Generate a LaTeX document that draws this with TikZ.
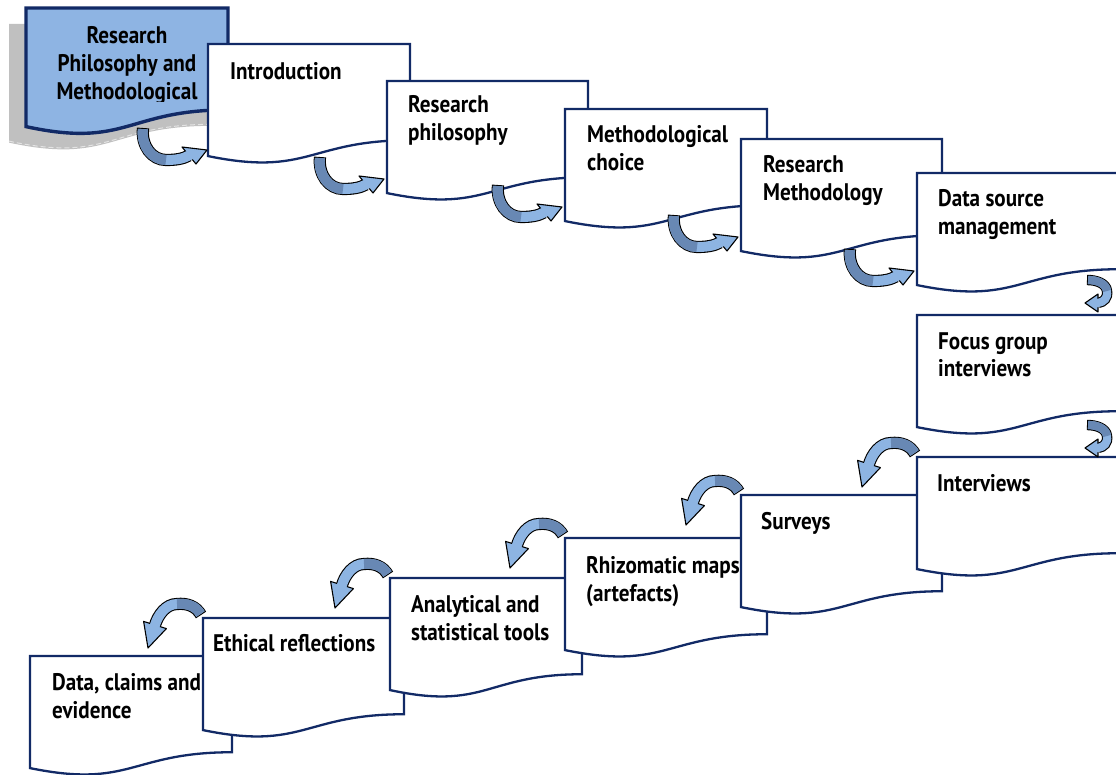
\documentclass[tikz,border=0pt]{standalone}
\usepackage{fontspec}
\newfontfamily\cardfont{PT Sans}[FakeStretch=0.88]

\definecolor{navy}{RGB}{18,42,102}
\definecolor{firstfill}{RGB}{142,180,227}
\definecolor{shadowgray}{RGB}{192,192,192}
\definecolor{arrlight}{RGB}{141,180,226}
\definecolor{arrdark}{RGB}{104,136,180}

% flowchart "document" outline: left, top, width, height (y grows downwards)
\newcommand\docpath[4]{(#1,#2) -- ({#1+#3},#2) -- ({#1+#3},{#2+0.802*#4})
  .. controls ({#1+0.5*#3},{#2+0.802*#4}) and ({#1+0.5*#3},{#2+1.107*#4}) .. (#1,{#2+0.934*#4}) -- cycle}
\newcommand\docbottom[4]{({#1+#3},{#2+0.802*#4})
  .. controls ({#1+0.5*#3},{#2+0.802*#4}) and ({#1+0.5*#3},{#2+1.107*#4}) .. (#1,{#2+0.934*#4})}

% label of a step: name, x, baseline y, lines
\newcommand\cardtext[4]{\node[cardlbl] (#1) at (#2,#3) {\vtop{#4}};}

% curled arrow under a step, pointing to the next step (its left, top)
\newcommand\stairArrow[2]{%
  \begin{scope}[shift={(#1,#2)}]
    \draw[ribbonrim, line width=12.2pt] (-67,76) .. controls (-69,94) and (-58,108) .. (-44,108)
      .. controls (-35,108) and (-27,107) .. (-21,103.5);
    \filldraw[ribbonhead] (-28,95) -- (-3,98) -- (-14,112) -- cycle;
    \draw[ribbonbody, draw=arrlight, shorten <=1.1pt] (-67,76) .. controls (-69,94) and (-58,108) .. (-44,108)
      .. controls (-35,108) and (-27,107) .. (-21,103.5) -- (-19.3,102.4);
    \draw[ribbonbody, draw=arrdark, shorten <=1.1pt] (-67,76) .. controls (-69,94) and (-58,108) .. (-44,108);
  \end{scope}}

% arched arrow from a step's top left corner down to the next step
\newcommand\dropArrow[2]{%
  \begin{scope}[shift={(#1,#2)}]
    \draw[ribbonrim, line width=12.2pt] (-2,-3) .. controls (-7,-12) and (-16,-15) .. (-26,-14)
      .. controls (-37,-14) and (-45,-3) .. (-48,7);
    \filldraw[ribbonhead] (-36.6,10.6) -- (-55,30) -- (-59.4,3.4) -- cycle;
    \draw[ribbonbody, draw=arrlight, shorten <=1.1pt] (-2,-3) .. controls (-7,-12) and (-16,-15) .. (-26,-14)
      .. controls (-37,-14) and (-45,-3) .. (-48,7) -- (-48.6,8.9);
    \draw[ribbonbody, draw=arrdark, shorten <=1.1pt] (-2,-3) .. controls (-7,-12) and (-16,-15) .. (-26,-14);
  \end{scope}}

% small U-turn arrow at the right edge (tip position)
\newcommand\turnArrow[2]{%
  \begin{scope}[shift={(#1,#2)}]
    \draw[ribbonrim, line width=10.4pt] (0,-23) .. controls (9,-23) and (19,-20) .. (20,-12)
      .. controls (21,-5) and (17,-1) .. (11,0);
    \filldraw[ribbonhead] (11,-9) -- (-2,0) -- (11,9) -- cycle;
    \draw[ribbonbody, line width=8.2pt, draw=arrlight, shorten <=1.1pt] (0,-23) .. controls (9,-23) and (19,-20) .. (20,-12)
      .. controls (21,-5) and (17,-1) .. (11,0) -- (9,0.3);
    \draw[ribbonbody, line width=8.2pt, draw=arrdark, shorten <=1.1pt] (0,-23) .. controls (9,-23) and (19,-20) .. (20,-12);
  \end{scope}}

\begin{document}
\begin{tikzpicture}[x=1pt, y=-1pt,
  docbox/.style={draw=navy, fill=white, line width=2.3pt, line join=miter},
  firstbox/.style={draw=navy, fill=firstfill, line width=3.4pt, line join=miter},
  cardlbl/.style={anchor=base west, inner sep=0pt, text=black,
    font=\cardfont\bfseries\fontsize{24}{28}\selectfont},
  ribbonrim/.style={draw=black, line cap=butt},
  ribbonbody/.style={line width=10pt, line cap=butt},
  ribbonhead/.style={fill=arrlight, draw=black, line width=1.1pt, line join=round}]
\useasboundingbox (0,0) rectangle (1116,775);
\clip (0,0) rectangle (1116,775);

% first step with its shadow
\fill[shadowgray] \docpath{9}{24}{202}{127};
\draw[white!55!shadowgray, line width=1pt, dash pattern=on 5pt off 3pt, yshift=1.5pt]
  \docbottom{9}{24}{202}{127};
\draw[firstbox] \docpath{26}{8}{202}{127};
\begin{scope}
  \clip (20,0) rectangle (235,102);
  \node[cardlbl, anchor=base] (philo) at (127,44) {\vtop{\hbox to 200pt{\hfil Research\hfil}
    \hbox to 200pt{\hfil Philosophy and\hfil}\hbox to 200pt{\hfil Methodological\hfil}}};
\end{scope}

% descending steps, each one over the previous
\draw[docbox] \docpath{208}{44}{202}{120};
\cardtext{intro}{230}{80}{\hbox{Introduction}}
\draw[docbox] \docpath{387}{81}{201}{120};
\cardtext{rphil}{408}{113}{\hbox{Research}\hbox{philosophy}}
\draw[docbox] \docpath{565}{109}{202}{120};
\cardtext{mchoice}{587}{143}{\hbox{Methodological}\hbox{choice}}
\draw[docbox] \docpath{741}{139}{201}{120};
\cardtext{rmeth}{763}{173}{\hbox{Research}\hbox{Methodology}}
\draw[docbox] \docpath{917}{173}{202}{120};
\cardtext{dsource}{938}{207}{\hbox{Data source}\hbox{management}}
\draw[docbox] \docpath{917}{315}{202}{120};
\cardtext{focus}{938}{349}{\hbox{Focus group}\hbox{interviews}}

% ascending steps, each one under the one to its right
\draw[docbox] \docpath{30}{656}{202}{120};
\cardtext{claims}{52}{690}{\hbox{Data, claims and}\hbox{evidence}}
\draw[docbox] \docpath{203}{618}{201}{120};
\cardtext{ethic}{213}{651}{\hbox{Ethical reflections}}
\draw[docbox] \docpath{390}{578}{192}{120};
\cardtext{tools}{411}{612}{\hbox{Analytical and}\hbox{statistical tools}}
\draw[docbox] \docpath{565}{538}{202}{120};
\cardtext{rhizo}{586}{573}{\hbox{Rhizomatic maps}\hbox{(artefacts)}}
\draw[docbox] \docpath{741}{495}{201}{120};
\cardtext{survey}{761}{529}{\hbox{Surveys}}
\draw[docbox] \docpath{917}{457}{202}{120};
\cardtext{interv}{937}{491}{\hbox{Interviews}}

% arrows between steps
\stairArrow{210}{52}
\stairArrow{387}{81}
\stairArrow{565}{109}
\stairArrow{741}{139}
\stairArrow{917}{173}
\turnArrow{1087}{303}
\turnArrow{1087}{448}
\dropArrow{917}{457}
\dropArrow{741}{495}
\dropArrow{565}{538}
\dropArrow{390}{578}
\dropArrow{203}{618}
\end{tikzpicture}
\end{document}
